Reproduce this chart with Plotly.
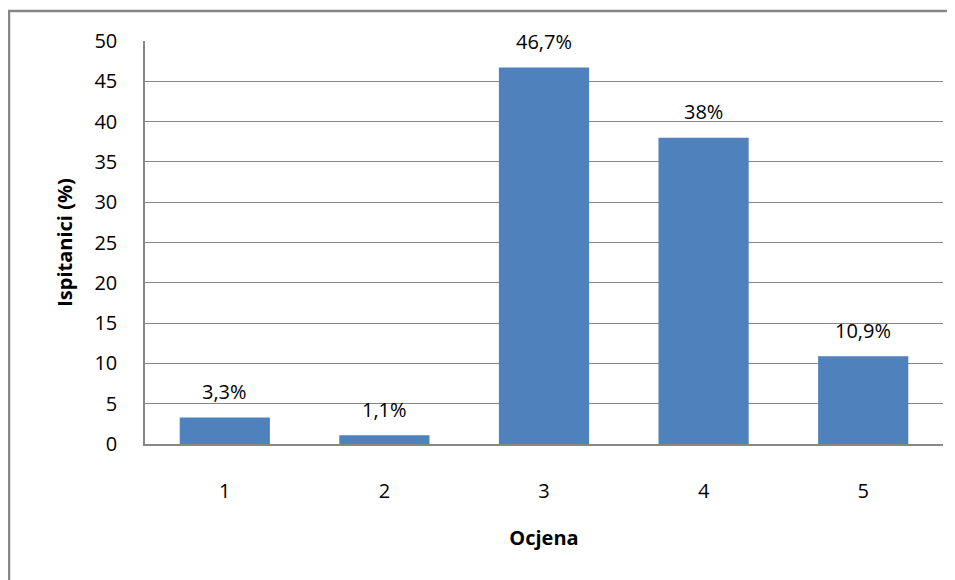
import plotly.graph_objects as go

categories = ["1", "2", "3", "4", "5"]
values = [3.3, 1.1, 46.7, 38, 10.9]
labels = ["3,3%", "1,1%", "46,7%", "38%", "10,9%"]
y_ticks = [0, 5, 10, 15, 20, 25, 30, 35, 40, 45, 50]

# page has an 8px body margin, so the figure is sized to fit the window
OFF = 8
W, H = 955 - OFF, 580 - OFF
L, R, T, B = 137, 12, 33, 136
pw, ph = W - L - R, H - T - B

FONT = "Open Sans"
GRID = "#878787"

fig = go.Figure()
fig.add_trace(go.Bar(x=categories, y=values, marker=dict(color="#4F81BD", line=dict(width=0)),
                     width=0.565))

for i, (v, t) in enumerate(zip(values, labels)):
    fig.add_annotation(x=i, y=v, text=t, showarrow=False, yanchor="middle", yshift=26,
                       font=dict(family=FONT, size=20, color="#000000"))

def px_x(p):
    return (p - OFF - L) / pw

def px_y(p):
    return (H - B - (p - OFF)) / ph

# outer chart border (only the left and top edges fall inside the window)
fig.add_shape(type="line", xref="paper", yref="paper",
              x0=px_x(9), x1=px_x(9), y0=px_y(10), y1=px_y(600),
              line=dict(color=GRID, width=2.5), layer="above")
fig.add_shape(type="line", xref="paper", yref="paper",
              x0=px_x(8), x1=px_x(960), y0=px_y(11), y1=px_y(11),
              line=dict(color=GRID, width=2.5), layer="above")

fig.update_layout(
    width=W, height=H,
    margin=dict(l=L, r=R, t=T, b=B, pad=0, autoexpand=False),
    paper_bgcolor="white", plot_bgcolor="white",
    showlegend=False,
    font=dict(family=FONT, size=20, color="#000000"),
    xaxis=dict(
        type="category", range=[-0.5, 4.5], automargin=False,
        showgrid=False, showline=True, linecolor=GRID, linewidth=1.5,
        ticks="", tickfont=dict(family=FONT, size=20), ticklabelstandoff=28,
        title=dict(text="<b>Ocjena</b>", font=dict(family=FONT, size=20), standoff=28),
    ),
    yaxis=dict(
        range=[0, 50], tickvals=y_ticks, automargin=False,
        showgrid=True, gridcolor=GRID, gridwidth=1,
        showline=True, linecolor=GRID, linewidth=1.5, zeroline=False,
        ticks="", tickfont=dict(family=FONT, size=20), ticklabelstandoff=22,
        title=dict(text="<b>Ispitanici (%)</b>", font=dict(family=FONT, size=20), standoff=16),
    ),
)

fig.write_html("out.html")
